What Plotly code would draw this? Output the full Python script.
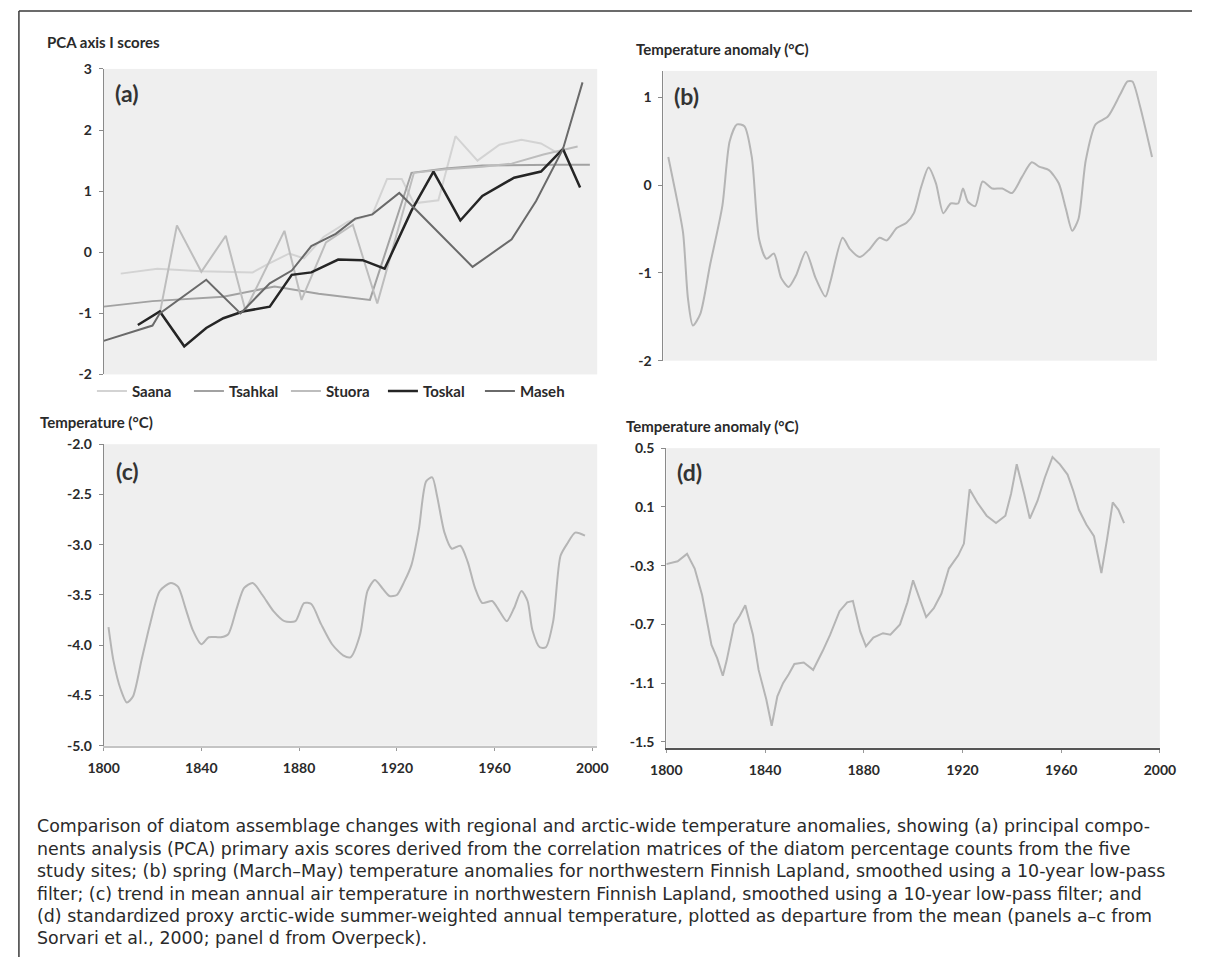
import plotly.graph_objects as go

# ---------------- data ----------------
# (a) PCA axis 1 scores
saana_years = [1807, 1822, 1840, 1861, 1867, 1876, 1882, 1890, 1900, 1910, 1916, 1922, 1927, 1937, 1944, 1953, 1962, 1971, 1979, 1986]
saana_vals = [-0.35, -0.27, -0.31, -0.33, -0.2, -0.02, -0.1, 0.25, 0.5, 0.62, 1.2, 1.2, 0.8, 0.85, 1.9, 1.5, 1.76, 1.84, 1.78, 1.62]

tsahkal_years = [1800, 1820, 1849, 1870, 1888, 1909, 1926, 1940, 1955, 1970, 1985, 1999]
tsahkal_vals = [-0.89, -0.8, -0.73, -0.56, -0.68, -0.78, 1.3, 1.37, 1.42, 1.43, 1.43, 1.43]

stuora_years = [1823, 1830, 1840, 1850, 1858, 1874, 1881, 1891, 1902, 1912, 1927, 1940, 1955, 1967, 1980, 1994]
stuora_vals = [-1.0, 0.44, -0.32, 0.27, -0.95, 0.35, -0.78, 0.16, 0.45, -0.84, 1.3, 1.36, 1.4, 1.45, 1.6, 1.73]

toskal_years = [1814, 1823, 1833, 1842, 1849, 1857, 1868, 1877, 1885, 1896, 1906, 1915, 1926, 1935, 1946, 1955, 1968, 1979, 1988, 1995]
toskal_vals = [-1.19, -0.97, -1.54, -1.24, -1.08, -0.97, -0.89, -0.37, -0.33, -0.12, -0.13, -0.27, 0.68, 1.32, 0.52, 0.92, 1.22, 1.32, 1.69, 1.06]

maseh_years = [1800, 1820, 1823, 1842, 1856, 1868, 1877, 1885, 1895, 1903, 1910, 1921, 1951, 1967, 1977, 1988, 1996]
maseh_vals = [-1.45, -1.2, -1.0, -0.45, -1.0, -0.51, -0.3, 0.1, 0.3, 0.55, 0.62, 0.97, -0.24, 0.21, 0.84, 1.69, 2.78]

# (b) spring temperature anomaly
b_years = [1802, 1805, 1808, 1810, 1812, 1815, 1819, 1824, 1827, 1830, 1833, 1836, 1839, 1842, 1845, 1848,
           1851, 1854, 1858, 1862, 1866, 1868, 1873, 1876, 1880, 1884, 1888, 1891, 1895, 1899, 1902, 1905,
           1908, 1911, 1914, 1917, 1920, 1922, 1924, 1927, 1930, 1934, 1938, 1942, 1946, 1950, 1953, 1957,
           1961, 1964, 1966.5, 1969, 1972, 1976, 1981, 1986, 1989, 1991, 1994, 1999]
b_vals = [0.32, -0.09, -0.54, -1.29, -1.6, -1.47, -0.91, -0.24, 0.5, 0.69, 0.67, 0.32, -0.62, -0.84, -0.78, -1.06,
          -1.16, -1.03, -0.76, -1.06, -1.27, -1.1, -0.6, -0.73, -0.82, -0.73, -0.6, -0.63, -0.49, -0.43, -0.32, -0.02,
          0.2, 0.02, -0.32, -0.21, -0.21, -0.04, -0.19, -0.24, 0.04, -0.04, -0.04, -0.09, 0.09, 0.26, 0.21, 0.17,
          0.02, -0.28, -0.52, -0.39, 0.28, 0.69, 0.78, 1.03, 1.18, 1.18, 0.91, 0.32]

# (c) mean annual air temperature
c_years = [1802, 1804, 1807, 1809.5, 1812, 1815.5, 1819, 1823, 1827.5, 1830.5, 1833.5, 1836.5, 1840, 1843, 1848, 1851,
           1854.5, 1857.5, 1861, 1865, 1869.5, 1874, 1878.5, 1882, 1885, 1889, 1893.5, 1898, 1901, 1905, 1908, 1911,
           1914, 1917, 1920, 1923, 1926, 1929, 1932, 1934.5, 1936.5, 1939.5, 1942.5, 1946, 1949, 1952, 1955, 1959,
           1962, 1965, 1968, 1971, 1973.5, 1975.5, 1978.5, 1981, 1984, 1987, 1990, 1993, 1997]
c_vals = [-3.82, -4.15, -4.44, -4.57, -4.51, -4.15, -3.79, -3.46, -3.38, -3.42, -3.63, -3.85, -3.99, -3.92, -3.92, -3.89,
          -3.63, -3.43, -3.38, -3.5, -3.66, -3.76, -3.76, -3.58, -3.59, -3.79, -3.99, -4.1, -4.12, -3.89, -3.46, -3.35,
          -3.43, -3.51, -3.5, -3.37, -3.2, -2.85, -2.37, -2.33, -2.52, -2.88, -3.04, -3.01, -3.17, -3.43, -3.58, -3.56,
          -3.66, -3.76, -3.63, -3.46, -3.56, -3.85, -4.02, -4.02, -3.76, -3.11, -2.98, -2.88, -2.91]

# (d) arctic-wide summer-weighted annual temperature anomaly
d_years = [1800, 1804.6, 1808.4, 1811.5, 1814.5, 1818.3, 1820.6, 1822.9, 1824.4, 1827.5, 1829.8, 1832, 1835.1, 1837.4,
           1840.5, 1842.7, 1845, 1847.3, 1849.6, 1851.9, 1855.7, 1859.5, 1863.4, 1866.4, 1870.2, 1873.3, 1875.6,
           1878.6, 1880.9, 1883.9, 1887.8, 1890.8, 1894.7, 1897.7, 1900, 1903, 1905.3, 1908.4, 1911.5, 1914.5,
           1918.3, 1920.6, 1922.9, 1926, 1929.8, 1933.6, 1937.4, 1939.7, 1942, 1945, 1947.3, 1950.4, 1953.4,
           1956.5, 1959.5, 1962.6, 1964.9, 1967.2, 1970.2, 1973.3, 1976.3, 1978.6, 1980.9, 1983.2, 1985.5]
d_vals = [-0.29, -0.27, -0.22, -0.32, -0.5, -0.84, -0.93, -1.05, -0.95, -0.7, -0.64, -0.57, -0.77, -1.01,
          -1.21, -1.39, -1.19, -1.1, -1.04, -0.97, -0.96, -1.01, -0.88, -0.77, -0.61, -0.55, -0.54,
          -0.75, -0.85, -0.79, -0.76, -0.77, -0.7, -0.55, -0.4, -0.55, -0.65, -0.59, -0.49, -0.32,
          -0.23, -0.15, 0.22, 0.13, 0.04, -0.01, 0.04, 0.19, 0.39, 0.19, 0.02, 0.14, 0.3,
          0.44, 0.39, 0.32, 0.21, 0.08, -0.02, -0.1, -0.35, -0.12, 0.13, 0.08, -0.01]

# tick labels
a_ticks = [3, 2, 1, 0, -1, -2]
a_ticktext = ["3", "2", "1", "0", "-1", "-2"]
b_ticks = [1, 0, -1, -2]
b_ticktext = ["1", "0", "-1", "-2"]
c_ticks = [-2.0, -2.5, -3.0, -3.5, -4.0, -4.5, -5.0]
c_ticktext = ["-2.0", "-2.5", "-3.0", "-3.5", "-4.0", "-4.5", "-5.0"]
d_ticks = [0.5, 0.1, -0.3, -0.7, -1.1, -1.5]
d_ticktext = ["0.5", "0.1", "-0.3", "-0.7", "-1.1", "-1.5"]
x_ticks = [1800, 1840, 1880, 1920, 1960, 2000]
x_ticktext = ["1800", "1840", "1880", "1920", "1960", "2000"]

caption_lines = [
    "Comparison of diatom assemblage changes with regional and arctic-wide temperature anomalies, showing (a) principal compo-",
    "nents analysis (PCA) primary axis scores derived from the correlation matrices of the diatom percentage counts from the five",
    "study sites; (b) spring (March\u2013May) temperature anomalies for northwestern Finnish Lapland, smoothed using a 10-year low-pass",
    "filter; (c) trend in mean annual air temperature in northwestern Finnish Lapland, smoothed using a 10-year low-pass filter; and",
    "(d) standardized proxy arctic-wide summer-weighted annual temperature, plotted as departure from the mean (panels a\u2013c from",
    "Sorvari et al., 2000; panel d from Overpeck).",
]

# ---------------- figure ----------------
W, H = 1208, 965


def fx(p):
    return p / W


def fy(p):
    return 1 - p / H


FONT = "Lato"
TICKFONT = dict(family=FONT, size=14, color="#2a2a2a", weight="bold")
CURVE = "#b5b5b5"

fig = go.Figure()

series_a = [
    ("Saana", saana_years, saana_vals, "#d3d3d3", 2),
    ("Tsahkal", tsahkal_years, tsahkal_vals, "#a2a2a2", 2),
    ("Stuora", stuora_years, stuora_vals, "#bdbdbd", 2),
    ("Toskal", toskal_years, toskal_vals, "#252525", 2.5),
    ("Maseh", maseh_years, maseh_vals, "#6a6a6a", 2),
]
for name, xs, ys, col, w in series_a:
    fig.add_trace(go.Scatter(x=xs, y=ys, mode="lines", name=name,
                             line=dict(color=col, width=w), xaxis="x", yaxis="y"))

fig.add_trace(go.Scatter(x=b_years, y=b_vals, mode="lines", showlegend=False,
                         line=dict(color=CURVE, width=2, shape="spline", smoothing=0.7),
                         xaxis="x2", yaxis="y2"))
fig.add_trace(go.Scatter(x=c_years, y=c_vals, mode="lines", showlegend=False,
                         line=dict(color=CURVE, width=2, shape="spline", smoothing=0.7),
                         xaxis="x3", yaxis="y3"))
fig.add_trace(go.Scatter(x=d_years, y=d_vals, mode="lines", showlegend=False,
                         line=dict(color=CURVE, width=2),
                         xaxis="x4", yaxis="y4"))


def yax(dom_top, dom_bot, rng, tv, tt, anchor):
    return dict(domain=[fy(dom_bot), fy(dom_top)], range=rng, tickvals=tv, ticktext=tt,
                showline=True, linecolor="#8a8a8a", linewidth=1, ticks="outside", ticklen=4,
                tickcolor="#8a8a8a", showgrid=False, zeroline=False, tickfont=TICKFONT,
                anchor=anchor, ticklabelstandoff=4)


def xax(left, right, rng, anchor, visible, linecolor="#c4c4c4", lw=1):
    return dict(domain=[fx(left), fx(right)], range=rng, visible=visible, anchor=anchor,
                tickvals=x_ticks, ticktext=x_ticktext, showline=True, linecolor=linecolor,
                linewidth=lw, ticks="outside", ticklen=3, tickcolor="#999999", showgrid=False,
                zeroline=False, tickfont=TICKFONT, ticklabelstandoff=6)


fig.update_layout(
    width=W, height=H, margin=dict(l=0, r=0, t=0, b=0),
    paper_bgcolor="white", plot_bgcolor="#efefef",
    xaxis=xax(90, 597, [1800, 2002], "y", False),
    yaxis=yax(61, 372, [-2, 3], a_ticks, a_ticktext, "x"),
    xaxis2=xax(665, 1172, [1800, 2001], "y2", False),
    yaxis2=yax(63, 358, [-2, 1.3], b_ticks, b_ticktext, "x2"),
    xaxis3=xax(90, 597, [1800, 2002], "y3", True, "#c4c4c4", 1.5),
    yaxis3=yax(443, 750, [-5, -2], c_ticks, c_ticktext, "x3"),
    xaxis4=xax(668, 1175, [1800, 2000], "y4", True, "#555555", 1.5),
    yaxis4=yax(447, 752, [-1.54, 0.5], d_ticks, d_ticktext, "x4"),
    legend=dict(orientation="h", x=fx(78), y=fy(389), xanchor="left", yanchor="middle",
                font=dict(family=FONT, size=15, color="#2a2a2a", weight="bold"),
                bgcolor="rgba(0,0,0,0)", entrywidth=52, entrywidthmode="pixels",
                itemwidth=30, tracegroupgap=0),
    showlegend=True,
)

titles = [
    ("PCA axis I scores", 30, 34),
    ("Temperature anomaly (\u00b0C)", 635, 41),
    ("Temperature (\u00b0C)", 23, 420),
    ("Temperature anomaly (\u00b0C)", 625, 424),
]
for text, x, y in titles:
    fig.add_annotation(text=text, x=fx(x), y=fy(y), xref="paper", yref="paper",
                       xanchor="left", yanchor="middle", showarrow=False,
                       font=dict(family=FONT, size=15, color="#2a2a2a", weight="bold"))

panel_labels = [("(a)", 100, 85), ("(b)", 674, 89), ("(c)", 101, 470), ("(d)", 677, 471)]
for text, x, y in panel_labels:
    fig.add_annotation(text=text, x=fx(x), y=fy(y), xref="paper", yref="paper",
                       xanchor="left", yanchor="middle", showarrow=False,
                       font=dict(family=FONT, size=23, color="#333333", weight="bold"))

for i, line in enumerate(caption_lines):
    fig.add_annotation(text=line, x=fx(20), y=fy(832 + i * 22.8), xref="paper", yref="paper",
                       xanchor="left", yanchor="middle", showarrow=False,
                       font=dict(family="DejaVu Sans", size=17.4, color="#2a2a2a"))

# outer frame
fig.add_shape(type="line", xref="paper", yref="paper", x0=fx(3), x1=fx(3), y0=0, y1=fy(2),
              line=dict(color="#3a3a3a", width=1.5))
fig.add_shape(type="line", xref="paper", yref="paper", x0=fx(3), x1=1, y0=fy(2), y1=fy(2),
              line=dict(color="#3a3a3a", width=1.5))

fig.write_html("out.html", config={"displayModeBar": False},
               post_script="document.body.style.margin='0';document.body.style.overflow='hidden';")
